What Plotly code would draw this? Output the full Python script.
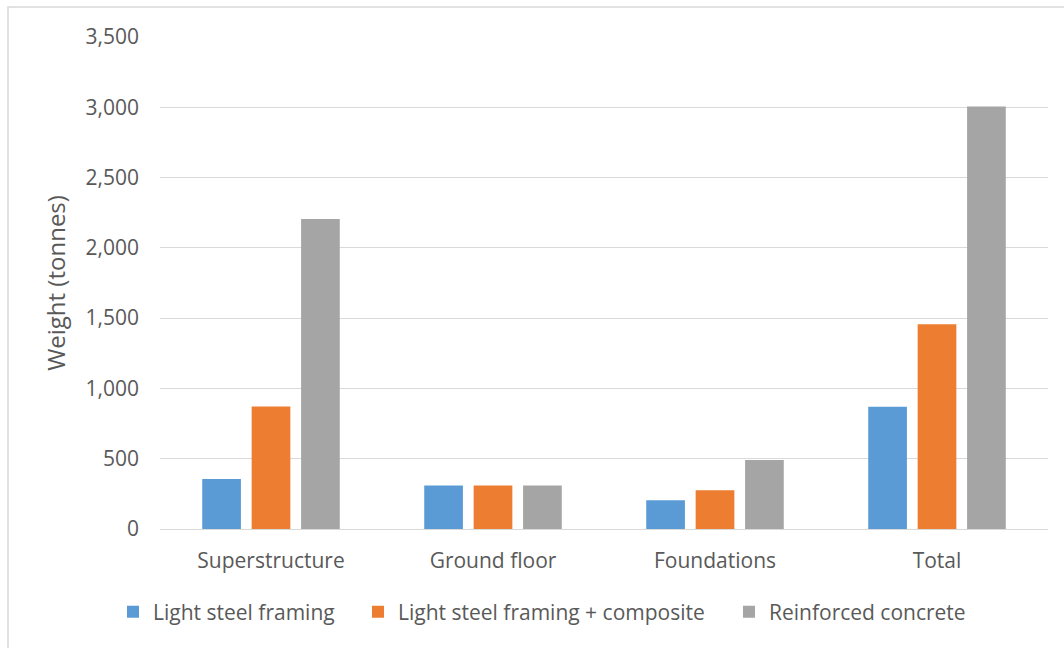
import plotly.graph_objects as go

# Building components and the weight of each construction system (tonnes)
categories = ["Superstructure", "Ground floor", "Foundations", "Total"]
light_steel = [355, 310, 205, 870]
light_steel_composite = [872, 310, 275, 1457]
reinforced_concrete = [2205, 310, 490, 3005]

series = [
    ("Light steel framing", light_steel, "#5B9BD5", "legend"),
    ("Light steel framing + composite", light_steel_composite, "#ED7D31", "legend2"),
    ("Reinforced concrete", reinforced_concrete, "#A5A5A5", "legend3"),
]

TEXT = "#595959"
GRID = "#D9D9D9"
FONT = "Open Sans"

fig = go.Figure()
for name, values, color, leg in series:
    fig.add_trace(go.Bar(
        name=name, x=categories, y=values,
        marker=dict(color=color, line=dict(width=0)),
        legend=leg, showlegend=True,
    ))

W, H = 1064, 648
L, R, T, B = 160, 16, 37, 119
pw, ph = W - L - R, H - T - B


def px_x(px):
    return (px - L) / pw


def px_y(py):
    return (H - B - py) / ph


legend_common = dict(
    orientation="h", yanchor="middle", xanchor="left",
    font=dict(family=FONT, size=21, color=TEXT),
    bgcolor="rgba(0,0,0,0)", borderwidth=0,
)

fig.update_layout(
    width=W, height=H,
    showlegend=True,
    margin=dict(l=L, r=R, t=T, b=B, autoexpand=False),
    paper_bgcolor="white", plot_bgcolor="white",
    font=dict(family=FONT, color=TEXT),
    barmode="group", bargap=0.332, bargroupgap=0.217,
    legend=dict(x=px_x(113), y=px_y(612), **legend_common),
    legend2=dict(x=px_x(358), y=px_y(612), **legend_common),
    legend3=dict(x=px_x(729), y=px_y(612), **legend_common),
    xaxis=dict(
        showgrid=False, showline=True, linecolor=GRID, linewidth=1.3,
        ticks="", tickfont=dict(family=FONT, size=21, color=TEXT),
        ticklabelstandoff=13, automargin=False,
    ),
    yaxis=dict(
        range=[0, 3500], dtick=500, tickformat=",",
        showgrid=True, gridcolor=GRID, gridwidth=1.3,
        zeroline=False, showline=False, ticks="",
        tickfont=dict(family=FONT, size=21, color=TEXT),
        ticklabelstandoff=20, automargin=False,
        title=dict(text="Weight (tonnes)", standoff=13,
                   font=dict(family=FONT, size=24, color=TEXT)),
    ),
    shapes=[dict(
        type="rect", xref="paper", yref="paper",
        x0=px_x(8), x1=px_x(1075), y0=px_y(660), y1=px_y(7),
        line=dict(color=GRID, width=1.5), fillcolor="rgba(0,0,0,0)",
        layer="below",
    )],
)

fig.write_html("out.html")
